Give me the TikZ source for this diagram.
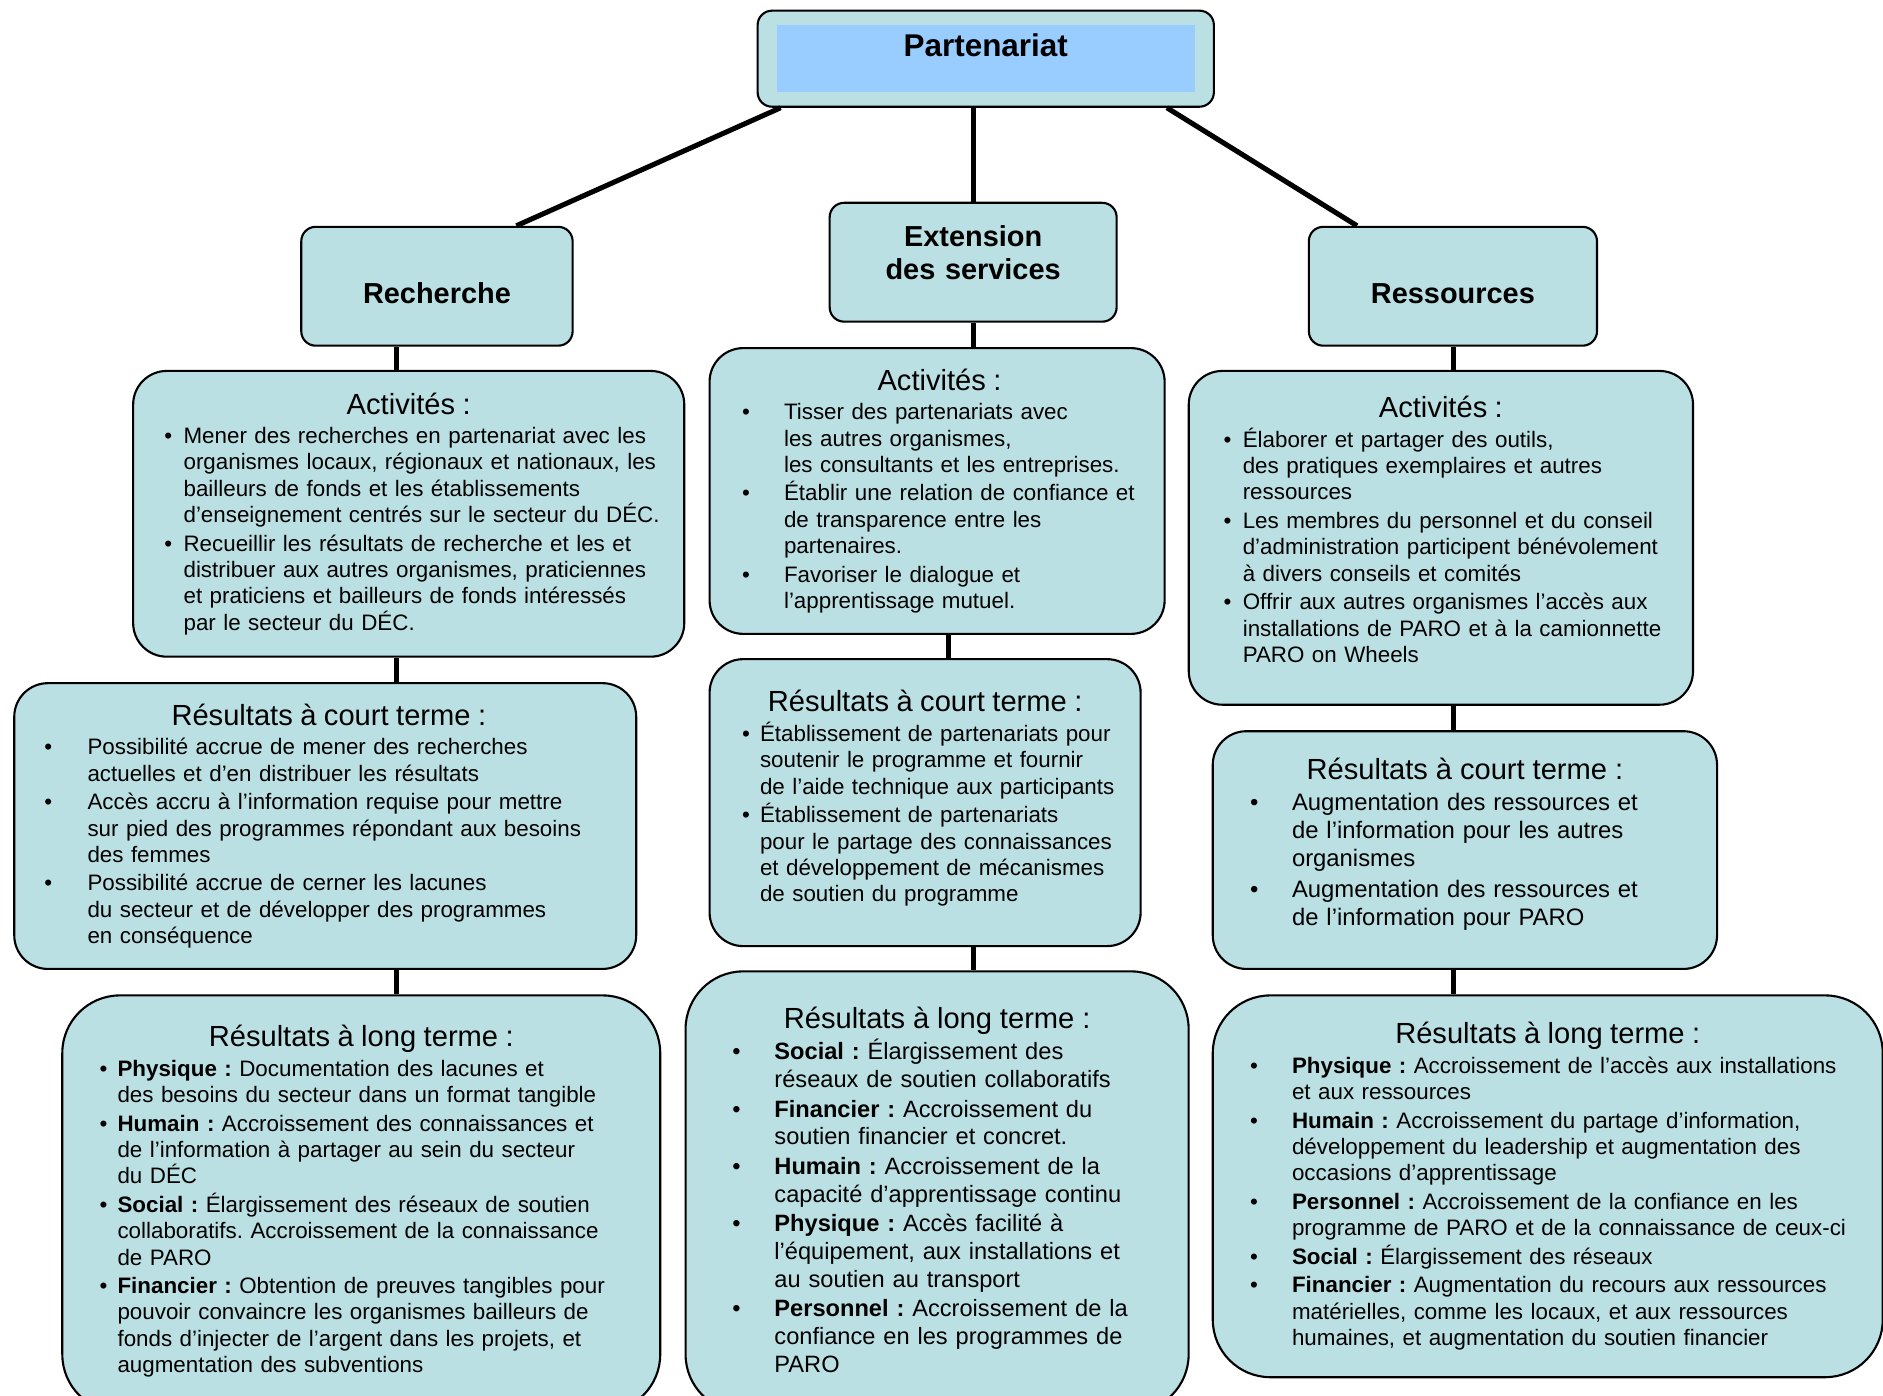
\documentclass[tikz,border=0pt]{standalone}
\usepackage{fontspec}
\setmainfont{Liberation Sans}
\usetikzlibrary{positioning,calc}

\definecolor{sarcelle}{RGB}{187,224,227}
\definecolor{ciel}{RGB}{153,204,255}

\newlength\pxlen
\setlength\pxlen{0.02cm}
\frenchspacing

% liste a puces : #1 = position de la puce, #2 = debut du texte
\newenvironment{puces}[2]{%
  \begin{list}{\textbullet}{%
    \setlength\leftmargin{#2\pxlen}%
    \setlength\labelsep{\dimexpr #2\pxlen - #1\pxlen\relax}%
    \setlength\labelwidth{0pt}\setlength\itemindent{0pt}%
    \setlength\topsep{0pt}\setlength\partopsep{0pt}%
    \setlength\parsep{0pt}\setlength\itemsep{1pt}%
    \def\makelabel##1{\rlap{##1}}}}%
  {\end{list}}
\newcommand{\titre}[1]{{\centering\fontsize{13.8}{16}\selectfont #1\par}\vspace{1.5pt}}
% decalage du contenu : \monte en fin de texte, \descend en debut
\newcommand{\monte}[1]{\par\kern#1\pxlen}
\newcommand{\descend}[1]{\kern#1\pxlen}

\begin{document}
\begin{tikzpicture}[
  x=0.02cm, y=-0.02cm,
  racine/.style={draw, fill=sarcelle, line width=1pt, rounded corners=0.24cm, anchor=north west,
    minimum width=7.6cm, inner sep=0pt, text height=0.76cm, text depth=0.84cm,
    font=\fontsize{14.9}{17}\selectfont\bfseries,
    path picture={\fill[ciel, sharp corners] ($(path picture bounding box.north west)+(16,12)$)
      rectangle ($(path picture bounding box.south east)+(-16,-12)$);}},
  branche/.style={draw, fill=sarcelle, line width=1pt, rounded corners=0.24cm, anchor=north west,
    inner sep=0pt, align=center, font=\fontsize{13.7}{16}\selectfont\bfseries},
  carte/.style={draw, fill=sarcelle, line width=1pt, rounded corners=0.56cm, anchor=north west,
    inner xsep=0pt, inner ysep=4pt, align=left, font=\fontsize{10.6}{12.5}\selectfont},
  grande/.style={carte, rounded corners=0.96cm},
  lien/.style={line width=2.4pt},
]
\useasboundingbox (0,0) rectangle (1568,1162);
\clip (0,0) rectangle (1568,1162);

% ---- sommet ----
\node[racine] (part) at (630,8) {Partenariat};

% ---- les trois volets ----
\node[branche, minimum width=4.52cm, text height=1.28cm, text depth=0.70cm] (rech) at (250,188) {Recherche};
\node[branche, text width=4.78cm, minimum height=1.98cm] (ext) at (690,168) {Extension\\des services\monte{16}};
\node[branche, minimum width=4.8cm, text height=1.28cm, text depth=0.70cm] (ress) at (1089,188) {Ressources};

% ---- colonne gauche ----
\node[carte, text width=9.18cm, minimum height=4.76cm] (gact) at (110,308) {\titre{Activités :}
\begin{puces}{26}{42}
\item Mener des recherches en partenariat avec les\\ organismes locaux, régionaux et nationaux, les\\ bailleurs de fonds et les établissements\\ d’enseignement centrés sur le secteur du DÉC.
\item Recueillir les résultats de recherche et les et\\ distribuer aux autres organismes, praticiennes\\ et praticiens et bailleurs de fonds intéressés\\ par le secteur du DÉC.
\end{puces}};
\node[carte, text width=10.36cm, minimum height=4.76cm] (gcourt) at (11,568) {\descend{6}\titre{Résultats à court terme :}
\begin{puces}{25}{61}
\item Possibilité accrue de mener des recherches\\ actuelles et d’en distribuer les résultats
\item Accès accru à l’information requise pour mettre\\ sur pied des programmes répondant aux besoins\\ des femmes
\item Possibilité accrue de cerner les lacunes\\ du secteur et de développer des programmes\\ en conséquence
\end{puces}};
\node[grande, text width=9.96cm, minimum height=6.94cm] (glong) at (51,828) {\titre{Résultats à long terme :}
\begin{puces}{31}{46}
\item \textbf{Physique :} Documentation des lacunes et\\ des besoins du secteur dans un format tangible
\item \textbf{Humain :} Accroissement des connaissances et\\ de l’information à partager au sein du secteur\\ du DÉC
\item \textbf{Social :} Élargissement des réseaux de soutien\\ collaboratifs. Accroissement de la connaissance\\ de PARO
\item \textbf{Financier :} Obtention de preuves tangibles pour\\ pouvoir convaincre les organismes bailleurs de\\ fonds d’injecter de l’argent dans les projets, et\\ augmentation des subventions
\end{puces}\monte{4}};

% ---- colonne du milieu ----
\node[carte, text width=7.58cm, minimum height=4.76cm] (mact) at (590,289) {\descend{4}\titre{Activités :}
\begin{puces}{27}{62}
\item Tisser des partenariats avec\\ les autres organismes,\\ les consultants et les entreprises.
\item Établir une relation de confiance et\\ de transparence entre les\\ partenaires.
\item Favoriser le dialogue et\\ l’apprentissage mutuel.
\end{puces}};
\node[carte, text width=7.18cm, minimum height=4.78cm] (mcourt) at (590,548) {\titre{Résultats à court terme :}
\begin{puces}{27}{42}
\item Établissement de partenariats pour\\ soutenir le programme et fournir\\ de l’aide technique aux participants
\item Établissement de partenariats\\ pour le partage des connaissances\\ et développement de mécanismes\\ de soutien du programme
\end{puces}\monte{7}};
\node[grande, text width=8.38cm, minimum height=7.34cm, font=\fontsize{11.2}{13.1}\selectfont] (mlong) at (570,808) {\titre{Résultats à long terme :}
\begin{puces}{39}{74}
\item \textbf{Social :} Élargissement des\\ réseaux de soutien collaboratifs
\item \textbf{Financier :} Accroissement du\\ soutien financier et concret.
\item \textbf{Humain :} Accroissement de la\\ capacité d’apprentissage continu
\item \textbf{Physique :} Accès facilité à\\ l’équipement, aux installations et\\ au soutien au transport
\item \textbf{Personnel :} Accroissement de la\\ confiance en les programmes de\\ PARO
\end{puces}\monte{3}};

% ---- colonne droite ----
\node[carte, text width=8.4cm, minimum height=5.56cm] (dact) at (989,308) {\titre{Activités :}
\begin{puces}{29}{45}
\item Élaborer et partager des outils,\\ des pratiques exemplaires et autres\\ ressources
\item Les membres du personnel et du conseil\\ d’administration participent bénévolement\\ à divers conseils et comités
\item Offrir aux autres organismes l’accès aux\\ installations de PARO et à la camionnette\\ PARO on Wheels
\end{puces}\monte{14}};
\node[carte, text width=8.4cm, minimum height=3.96cm, font=\fontsize{11.3}{13.3}\selectfont] (dcourt) at (1009,608) {\titre{Résultats à court terme :}
\begin{puces}{31}{66}
\item Augmentation des ressources et\\ de l’information pour les autres\\ organismes
\item Augmentation des ressources et\\ de l’information pour PARO
\end{puces}\monte{10}};
\node[grande, text width=11.16cm, minimum height=6.36cm] (dlong) at (1009,828) {\titre{Résultats à long terme :}
\begin{puces}{31}{66}
\item \textbf{Physique :} Accroissement de l’accès aux installations\\ et aux ressources
\item \textbf{Humain :} Accroissement du partage d’information,\\ développement du leadership et augmentation des\\ occasions d’apprentissage
\item \textbf{Personnel :} Accroissement de la confiance en les\\ programme de PARO et de la connaissance de ceux-ci
\item \textbf{Social :} Élargissement des réseaux
\item \textbf{Financier :} Augmentation du recours aux ressources\\ matérielles, comme les locaux, et aux ressources\\ humaines, et augmentation du soutien financier
\end{puces}};

% ---- axes des colonnes ----
\coordinate (axeG) at (330,0);
\coordinate (axeM) at (790,0);
\coordinate (axeD) at (1210,0);

% ---- liens ----
\draw[lien] ($(part.south west)+(20,0)$) -- ($(rech.north west)+(180,0)$);
\draw[lien] (part.south -| ext.north) -- (ext.north);
\draw[lien] ($(part.south east)+(-40,0)$) -- ($(ress.north west)+(41,0)$);
\draw[lien] (rech.south -| axeG) -- (gact.north -| axeG);
\draw[lien] (gact.south -| axeG) -- (gcourt.north -| axeG);
\draw[lien] (gcourt.south -| axeG) -- (glong.north -| axeG);
\draw[lien] (ext.south) -- (ext.south |- mact.north);
\draw[lien] (mact.south -| axeM) -- (mcourt.north -| axeM);
\draw[lien] (mcourt.south -| ext.south) -- (mlong.north -| ext.south);
\draw[lien] (ress.south -| axeD) -- (dact.north -| axeD);
\draw[lien] (dact.south -| axeD) -- (dcourt.north -| axeD);
\draw[lien] (dcourt.south -| axeD) -- (dlong.north -| axeD);
\end{tikzpicture}
\end{document}
